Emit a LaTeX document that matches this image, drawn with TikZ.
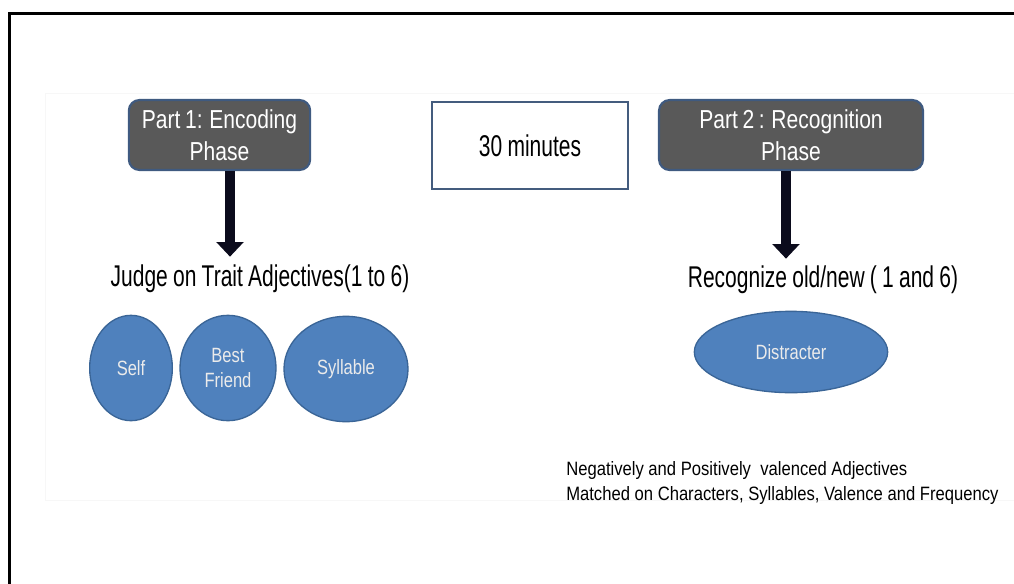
\documentclass[tikz,border=0pt]{standalone}
\usepackage{fontspec}
\setmainfont{Liberation Sans}
\newfontfamily\headfont[FakeStretch=0.81,WordSpace=0.8]{Liberation Sans}
\newfontfamily\labelfont[FakeStretch=0.70,WordSpace=0.9]{Liberation Sans}
\newfontfamily\ovalfont[FakeStretch=0.80]{Liberation Sans}
\newfontfamily\notefont[FakeStretch=0.86]{Liberation Sans}
\usetikzlibrary{arrows.meta,shapes.geometric}
\definecolor{phasefill}{HTML}{595959}
\definecolor{phaseedge}{HTML}{3F5A80}
\definecolor{ovalfill}{HTML}{4F81BD}
\definecolor{ovaledge}{HTML}{3A6597}
\definecolor{arrowfill}{HTML}{0B0B1C}
\definecolor{boxedge}{HTML}{445C7E}
\begin{document}
\begin{tikzpicture}[x=0.75pt,y=-0.75pt,
  phasebox/.style={draw=phaseedge, line width=1.6pt, fill=phasefill,
    rounded corners=8pt, text=white, align=center, inner sep=0pt,
    font=\headfont\fontsize{19.5}{24}\selectfont},
  timebox/.style={draw=boxedge, line width=1.6pt, fill=white, inner sep=0pt,
    font=\labelfont\fontsize{22.5}{25}\selectfont},
  steplabel/.style={inner sep=0pt, anchor=base,
    font=\labelfont\fontsize{22.5}{25}\selectfont},
  oval/.style={ellipse, draw=ovaledge, line width=1pt, fill=ovalfill,
    text=white!92!black, align=center, inner sep=0pt,
    font=\ovalfont\fontsize{15.5}{19}\selectfont},
  note/.style={inner sep=0pt, anchor=base west,
    font=\notefont\fontsize{14.5}{18}\selectfont},
  bigarrow/.style={draw=arrowfill, line width=7.8pt,
    -{Triangle[width=20pt,length=11pt]}, shorten >=1pt}
]
\useasboundingbox (0,0) rectangle (1014,583);
\clip (0,0) rectangle (1014,583);

% outer frame, running off the right and bottom edges
\draw[line width=2.4pt] (9.5,13.5) rectangle (1040,610);

% faint slide panel
\draw[draw=black!3, fill=white] (45,93) rectangle (1030,500);

% phase boxes and the pause between them
\node[phasebox, minimum width=136pt, minimum height=52.5pt] (p1) at (219.5,135)
  {Part 1: Encoding\\Phase};
\node[timebox, minimum width=147pt, minimum height=65pt] (gap) at (530,145.5)
  {30 minutes};
\node[phasebox, minimum width=198pt, minimum height=52.5pt] (p2) at (791,135)
  {Part 2 : Recognition\\Phase};

% task labels
\node[steplabel] (judge) at (260,286) {Judge on Trait Adjectives(1 to 6)};
\node[steplabel] (recog) at (823,287) {Recognize old/new ( 1 and 6)};

% arrows from the phases to their tasks
\coordinate (t1) at (230,258);
\coordinate (t2) at (786,260);
\draw[bigarrow] (p1.south -| t1) -- (t1);
\draw[bigarrow] (p2.south -| t2) -- (t2);

% encoding conditions
\node[oval, minimum width=62pt, minimum height=79pt] (self) at (131,368) {Self};
\node[oval, minimum width=72pt, minimum height=79pt] (friend) at (228,368) {Best\\Friend};
\node[oval, minimum width=93pt, minimum height=79pt] (syll) at (346,369) {Syllable};

% recognition distracters
\node[oval, minimum width=145pt, minimum height=61pt] (dist) at (791,352) {Distracter};

% stimulus notes
\node[note] (n1) at (566,475) {Negatively and Positively\ \ valenced Adjectives};
\node[note] (n2) at (566,500) {Matched on Characters, Syllables, Valence and Frequency};
\end{tikzpicture}
\end{document}
